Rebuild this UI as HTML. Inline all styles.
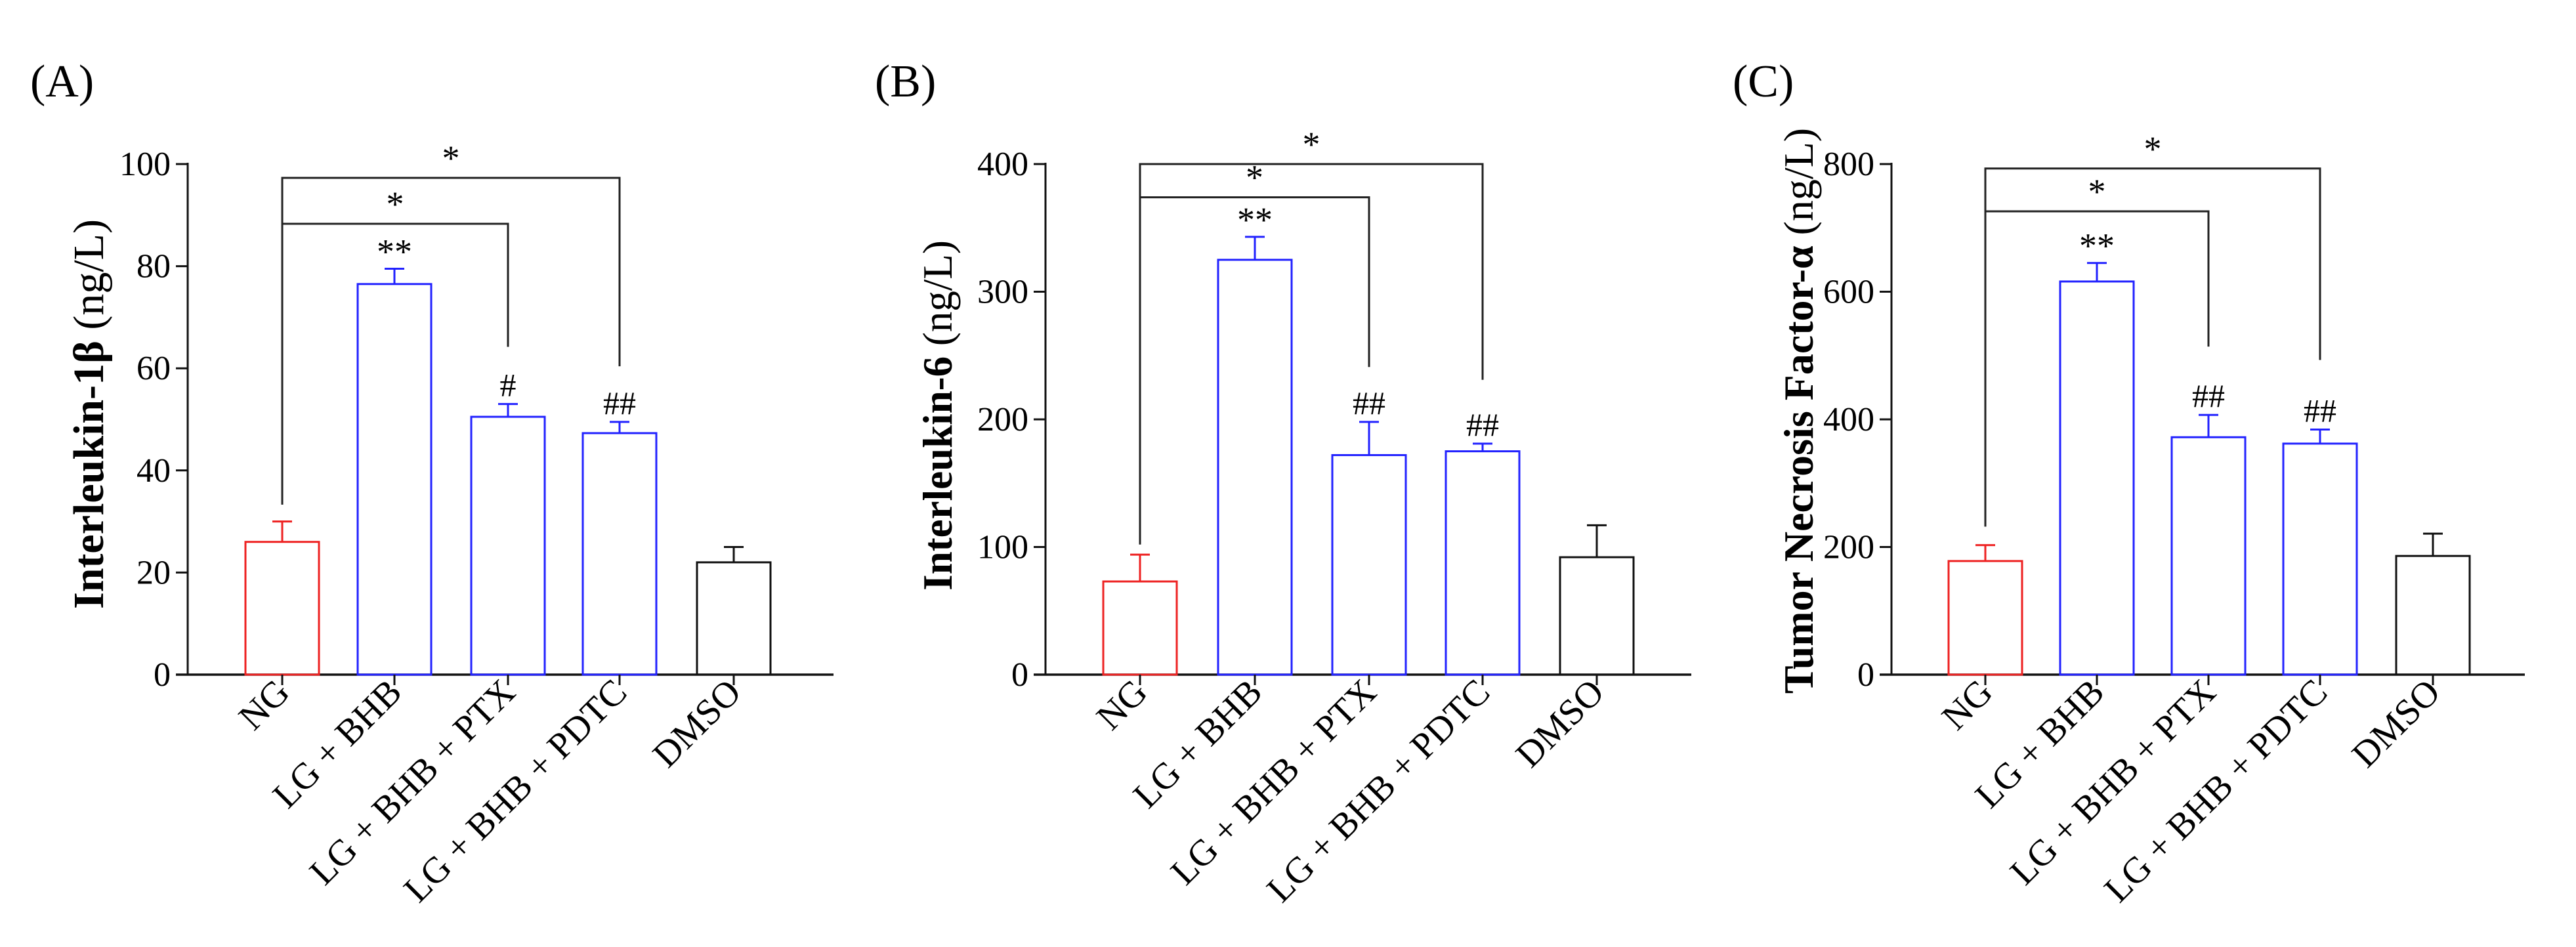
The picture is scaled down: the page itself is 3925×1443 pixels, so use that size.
<!DOCTYPE html>
<html><head><meta charset="utf-8"><style>
html,body{margin:0;padding:0;background:#fff;}
svg{display:block;font-family:"Liberation Serif","DejaVu Serif",serif;}
</style></head><body>
<svg id="fig" width="3925" height="1443" viewBox="0 0 3925 1443" xmlns="http://www.w3.org/2000/svg"></svg>
<script>
const categories = ["NG","LG + BHB","LG + BHB + PTX","LG + BHB + PDTC","DMSO"];
const valuesA = [26, 76.5, 50.5, 47.3, 22];
const errorsA = [30, 79.5, 53, 49.5, 25];
const valuesB = [73, 325, 172, 175, 92];
const errorsB = [94, 343, 198, 181, 117];
const valuesC = [178, 616, 372, 362, 186];
const errorsC = [203, 645, 407, 384, 221];
const ticksA = [0,20,40,60,80,100];
const ticksB = [0,100,200,300,400];
const ticksC = [0,200,400,600,800];
const marksA = ["", "**", "#", "##", ""];
const marksB = ["", "**", "##", "##", ""];
const marksC = ["", "**", "##", "##", ""];
const bracketsA = [{from:0,to:2,level:88.3,drop:64.2,ng:33.3},{from:0,to:3,level:97.3,drop:60.4,ng:33.3}];
const bracketsB = [{from:0,to:2,level:374,drop:241,ng:102},{from:0,to:3,level:400,drop:231,ng:102}];
const bracketsC = [{from:0,to:2,level:726,drop:514,ng:232},{from:0,to:3,level:793,drop:493,ng:232}];

const NS="http://www.w3.org/2000/svg";
const svg=document.getElementById('fig');
function mk(tag,attrs,parent,txt){const e=document.createElementNS(NS,tag);for(const k in attrs)e.setAttribute(k,attrs[k]);if(txt!==undefined)e.textContent=txt;(parent||svg).appendChild(e);return e;}
const colors=["#ee2222","#2222ff","#2222ff","#2222ff","#111111"];

const panels=[
 {id:"a",letter:"(A)",lx:46,ax:286,axEnd:1270,centers:[430,601,774,944,1118],max:100,ticks:ticksA,vals:valuesA,errs:errorsA,marks:marksA,br:bracketsA,bold:"Interleukin-1β",rest:" (ng/L)",ylb:157,yly:631,fs:66},
 {id:"b",letter:"(B)",lx:1333,ax:1593,axEnd:2577,centers:[1737,1912,2086,2259,2433],max:400,ticks:ticksB,vals:valuesB,errs:errorsB,marks:marksB,br:bracketsB,bold:"Interleukin-6",rest:" (ng/L)",ylb:1450,yly:633,fs:63},
 {id:"c",letter:"(C)",lx:2640,ax:2882,axEnd:3847,centers:[3025,3195,3365,3535,3707],max:800,ticks:ticksC,vals:valuesC,errs:errorsC,marks:marksC,br:bracketsC,bold:"Tumor Necrosis Factor-α",rest:" (ng/L)",ylb:2762,yly:626,fs:64}
];
const Y0=1028, YT=250, BW=112;

panels.forEach(p=>{
  const y=v=>Y0-(v/p.max)*(Y0-YT);
  const g=mk('g',{});
  
  
  const pl=mk('text',{x:p.lx,y:147,'font-size':70},g,p.letter);
  
  
  const yl=mk('text',{transform:`translate(${p.ylb},${p.yly}) rotate(-90)`,'text-anchor':'middle','font-size':p.fs},g);
  
  
  mk('tspan',{'font-weight':'bold'},yl,p.bold);
  mk('tspan',{},yl,p.rest);
  const ya=mk('line',{x1:p.ax,y1:YT-2,x2:p.ax,y2:Y0+1,stroke:'#111','stroke-width':3},g);
  
  
  const xa=mk('line',{x1:p.ax-18,y1:Y0,x2:p.axEnd,y2:Y0,stroke:'#111','stroke-width':3.5},g);
  
  
  p.ticks.forEach(t=>{
    mk('line',{x1:p.ax-18,y1:y(t),x2:p.ax,y2:y(t),stroke:'#111','stroke-width':3},g);
    const tl=mk('text',{x:p.ax-26,y:y(t)+17,'text-anchor':'end','font-size':52},g,String(t));
    
    
  });
  p.centers.forEach((cx,i)=>{
    const v=p.vals[i], e=p.errs[i], c=colors[i];
    const bar=mk('rect',{x:cx-BW/2,y:y(v),width:BW,height:Y0-y(v),fill:'none',stroke:c,'stroke-width':3},g);
    
    
    mk('line',{x1:cx,y1:y(v),x2:cx,y2:y(e),stroke:c,'stroke-width':3},g);
    mk('line',{x1:cx-15,y1:y(e),x2:cx+15,y2:y(e),stroke:c,'stroke-width':3},g);
    mk('line',{x1:cx,y1:Y0,x2:cx,y2:Y0+16,stroke:'#111','stroke-width':3},g);
    const xl=mk('text',{transform:`translate(${cx+14},${Y0+30}) rotate(-45)`,'text-anchor':'end','font-size':56},g,categories[i]);
    
    
    if(p.marks[i]){
      const m=mk('text',{x:cx,y:y(e)-(p.marks[i][0]==='*'?8:12),'text-anchor':'middle','font-size':p.marks[i][0]==='*'?54:50},g,p.marks[i]);
      
      
    }
  });
  p.br.forEach(b=>{
    const x1=p.centers[b.from], x2=p.centers[b.to];
    const pth=mk('path',{d:`M${x1},${y(b.ng)} V${y(b.level)} H${x2} V${y(b.drop)}`,fill:'none',stroke:'#222','stroke-width':3},g);
    
    
    const s=mk('text',{x:(x1+x2)/2,y:y(b.level)-12,'text-anchor':'middle','font-size':54},g,'*');
    
    
  });
});
</script>
</body></html>
